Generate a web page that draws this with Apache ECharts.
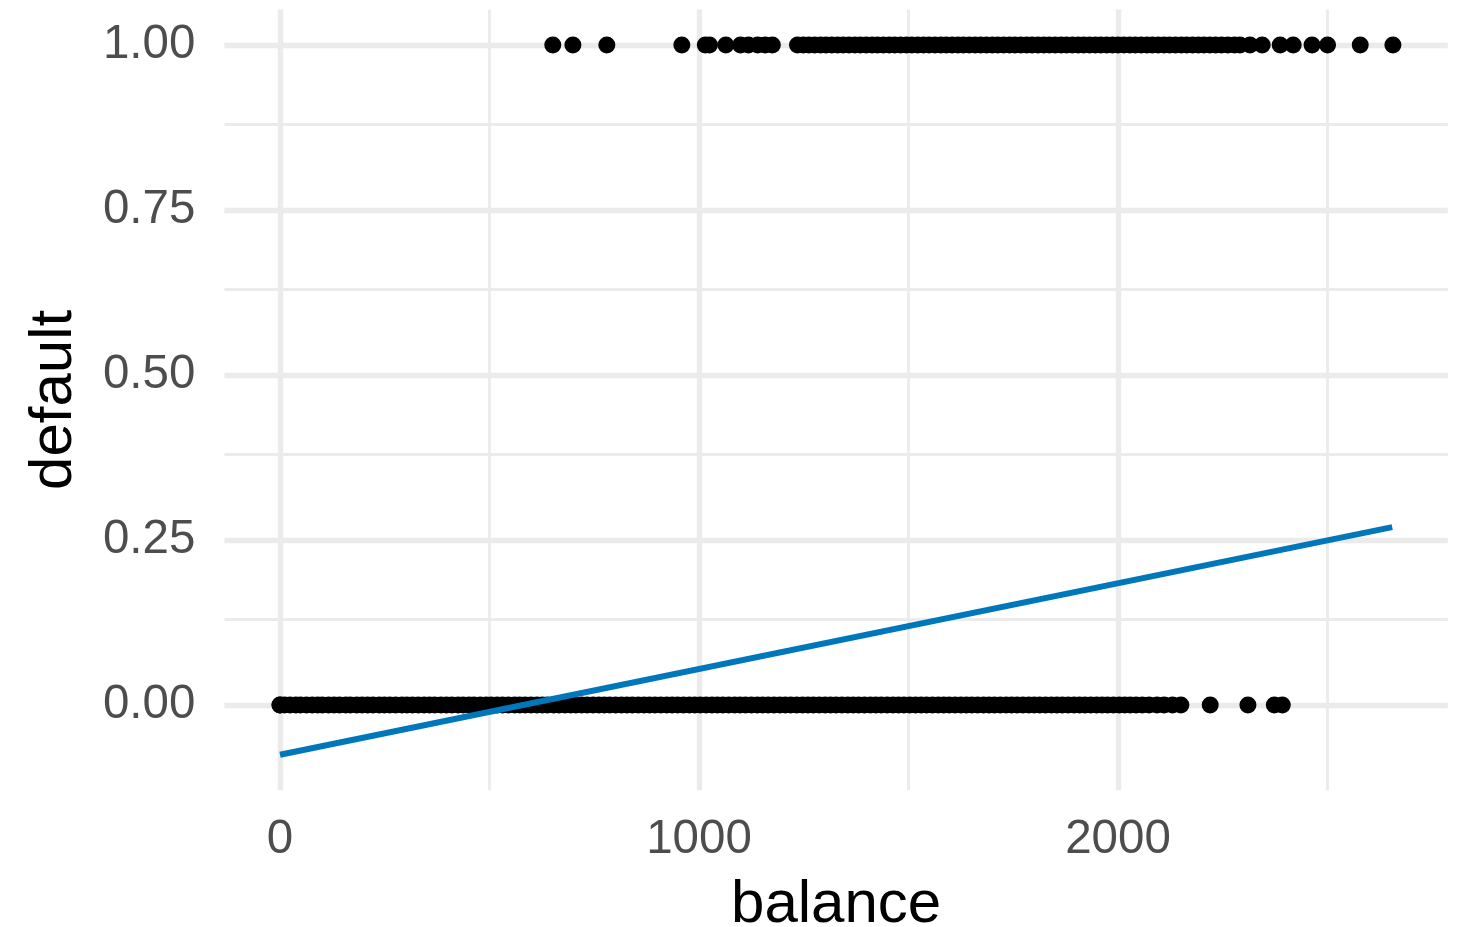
<!DOCTYPE html>
<html>
<head>
<meta charset="utf-8">
<title>default vs balance</title>
<script src="https://cdn.jsdelivr.net/npm/echarts@6/dist/echarts.min.js"></script>
<style>
  html, body { margin: 0; padding: 0; background: #ffffff; }
  #chart { width: 1462px; height: 927px; }
</style>
</head>
<body>
<div id="chart"></div>
<script>
// Card balance of customers who did not default (default = 0)
const balanceNoDefault = [
  0, 0, 11, 24, 38, 49, 63, 77, 90, 101, 116, 129, 142, 157, 168, 183, 196, 209,
  222, 237, 249, 262, 276, 291, 303, 316, 330, 344, 357, 369, 384, 397, 410, 425,
  437, 451, 463, 478, 492, 504, 518, 531, 545, 560, 572, 585, 599, 613, 626, 638,
  653, 666, 680, 694, 706, 720, 733, 747, 761, 774, 787, 801, 815, 828, 841, 855,
  869, 882, 895, 909, 923, 936, 949, 963, 977, 990, 1003, 1017, 1031, 1044, 1057,
  1071, 1085, 1098, 1111, 1125, 1139, 1152, 1165, 1179, 1193, 1206, 1219, 1233,
  1247, 1260, 1273, 1287, 1301, 1314, 1327, 1341, 1355, 1368, 1381, 1395, 1409,
  1422, 1435, 1449, 1463, 1476, 1489, 1503, 1517, 1530, 1543, 1557, 1571, 1584,
  1597, 1611, 1625, 1638, 1651, 1665, 1679, 1692, 1705, 1719, 1733, 1746, 1759,
  1773, 1787, 1800, 1813, 1827, 1841, 1854, 1867, 1881, 1895, 1908, 1921, 1935,
  1949, 1962, 1975, 1989, 2003, 2016, 2029, 2043, 2058, 2074, 2093, 2110, 2130,
  2150, 2220, 2310, 2373, 2392
];

// Card balance of customers who defaulted (default = 1)
const balanceDefault = [
  651, 699, 780, 959, 1015, 1025, 1064, 1099, 1118, 1140, 1158, 1175,
  1235, 1249, 1262, 1276, 1290, 1303, 1317, 1331, 1344, 1358, 1372, 1385, 1399,
  1413, 1426, 1440, 1454, 1467, 1481, 1495, 1508, 1522, 1536, 1549, 1563, 1577,
  1590, 1604, 1618, 1631, 1645, 1659, 1672, 1686, 1700, 1713, 1727, 1741, 1754,
  1768, 1782, 1795, 1809, 1823, 1836, 1850, 1864, 1877, 1891, 1905, 1918, 1932,
  1946, 1959, 1973, 1987, 2000, 2014, 2028, 2041, 2055, 2069, 2082, 2096, 2110,
  2123, 2137, 2151, 2164, 2178, 2192, 2205, 2219, 2233, 2247, 2262, 2278,
  2291, 2315, 2344, 2387, 2418, 2463, 2500, 2578, 2656
];

// Least-squares fit of default on balance, at the ends of the balance range
const fitBalance = [0, 2654.3];
const fitDefault = [-0.0752, 0.2696];

// Axis ticks and grid positions
const xTicks = [0, 1000, 2000];
const xMinorGrid = [500, 1500, 2500];
const yTicks = [0, 0.25, 0.5, 0.75, 1];
const yMinorGrid = [-0.125, 0.125, 0.375, 0.625, 0.875];

// Plot limits padded 5% beyond the data range on each side
const xMin = -132.7, xMax = 2787.0;
const yMin = -0.1290, yMax = 1.0538;

const FONT = '"Liberation Sans", Arial, Helvetica, sans-serif';
const GRID_COLOR = '#EBEBEB';

const zeroPoints = balanceNoDefault.map(b => [b, 0]);
const onePoints = balanceDefault.map(b => [b, 1]);
const fitLine = fitBalance.map((b, i) => [b, fitDefault[i]]);

const gridLines = []
  .concat(xMinorGrid.map(v => ({ xAxis: v, lineStyle: { width: 2.8 } })))
  .concat(yMinorGrid.map(v => ({ yAxis: v, lineStyle: { width: 2.8 } })))
  .concat(xTicks.map(v => ({ xAxis: v, lineStyle: { width: 5.4 } })))
  .concat(yTicks.map(v => ({ yAxis: v, lineStyle: { width: 5.4 } })));

const chart = echarts.init(document.getElementById('chart'), null, { renderer: 'canvas' });

chart.setOption({
  backgroundColor: '#ffffff',
  animation: false,
  grid: {
    left: 224.4, right: 14.2, top: 9.5, bottom: 136.8,
    containLabel: false,
    outerBoundsMode: 'none'
  },
  xAxis: {
    type: 'value',
    min: xMin,
    max: xMax,
    name: 'balance',
    nameLocation: 'middle',
    nameGap: 85,
    nameTextStyle: { fontFamily: FONT, fontSize: 60, color: '#000000' },
    axisLine: { show: false },
    axisTick: { show: false },
    splitLine: { show: false },
    axisLabel: {
      customValues: xTicks,
      margin: 26,
      fontFamily: FONT,
      fontSize: 47.5,
      color: '#4D4D4D',
      formatter: v => String(v)
    }
  },
  yAxis: {
    type: 'value',
    min: yMin,
    max: yMax,
    name: 'default',
    nameLocation: 'middle',
    nameGap: 140,
    nameRotate: 90,
    nameTextStyle: { fontFamily: FONT, fontSize: 60, color: '#000000' },
    axisLine: { show: false },
    axisTick: { show: false },
    splitLine: { show: false },
    axisLabel: {
      customValues: yTicks,
      margin: 29,
      fontFamily: FONT,
      fontSize: 47.5,
      color: '#4D4D4D',
      padding: [4, 0, 0, 0],
      formatter: v => v.toFixed(2)
    }
  },
  series: [
    {
      // background grid
      type: 'line',
      data: [],
      silent: true,
      markLine: {
        z: 1,
        silent: true,
        symbol: ['none', 'none'],
        label: { show: false },
        lineStyle: { color: GRID_COLOR, type: 'solid' },
        emphasis: { disabled: true },
        data: gridLines
      }
    },
    {
      name: 'no default',
      type: 'scatter',
      z: 3,
      symbol: 'circle',
      symbolSize: 17,
      itemStyle: { color: '#000000', opacity: 1 },
      data: zeroPoints
    },
    {
      name: 'default',
      type: 'scatter',
      z: 3,
      symbol: 'circle',
      symbolSize: 17,
      itemStyle: { color: '#000000', opacity: 1 },
      data: onePoints
    },
    {
      name: 'linear fit',
      type: 'line',
      z: 4,
      showSymbol: false,
      symbol: 'none',
      lineStyle: { color: '#0077BB', width: 6 },
      data: fitLine
    }
  ]
});
</script>
</body>
</html>
